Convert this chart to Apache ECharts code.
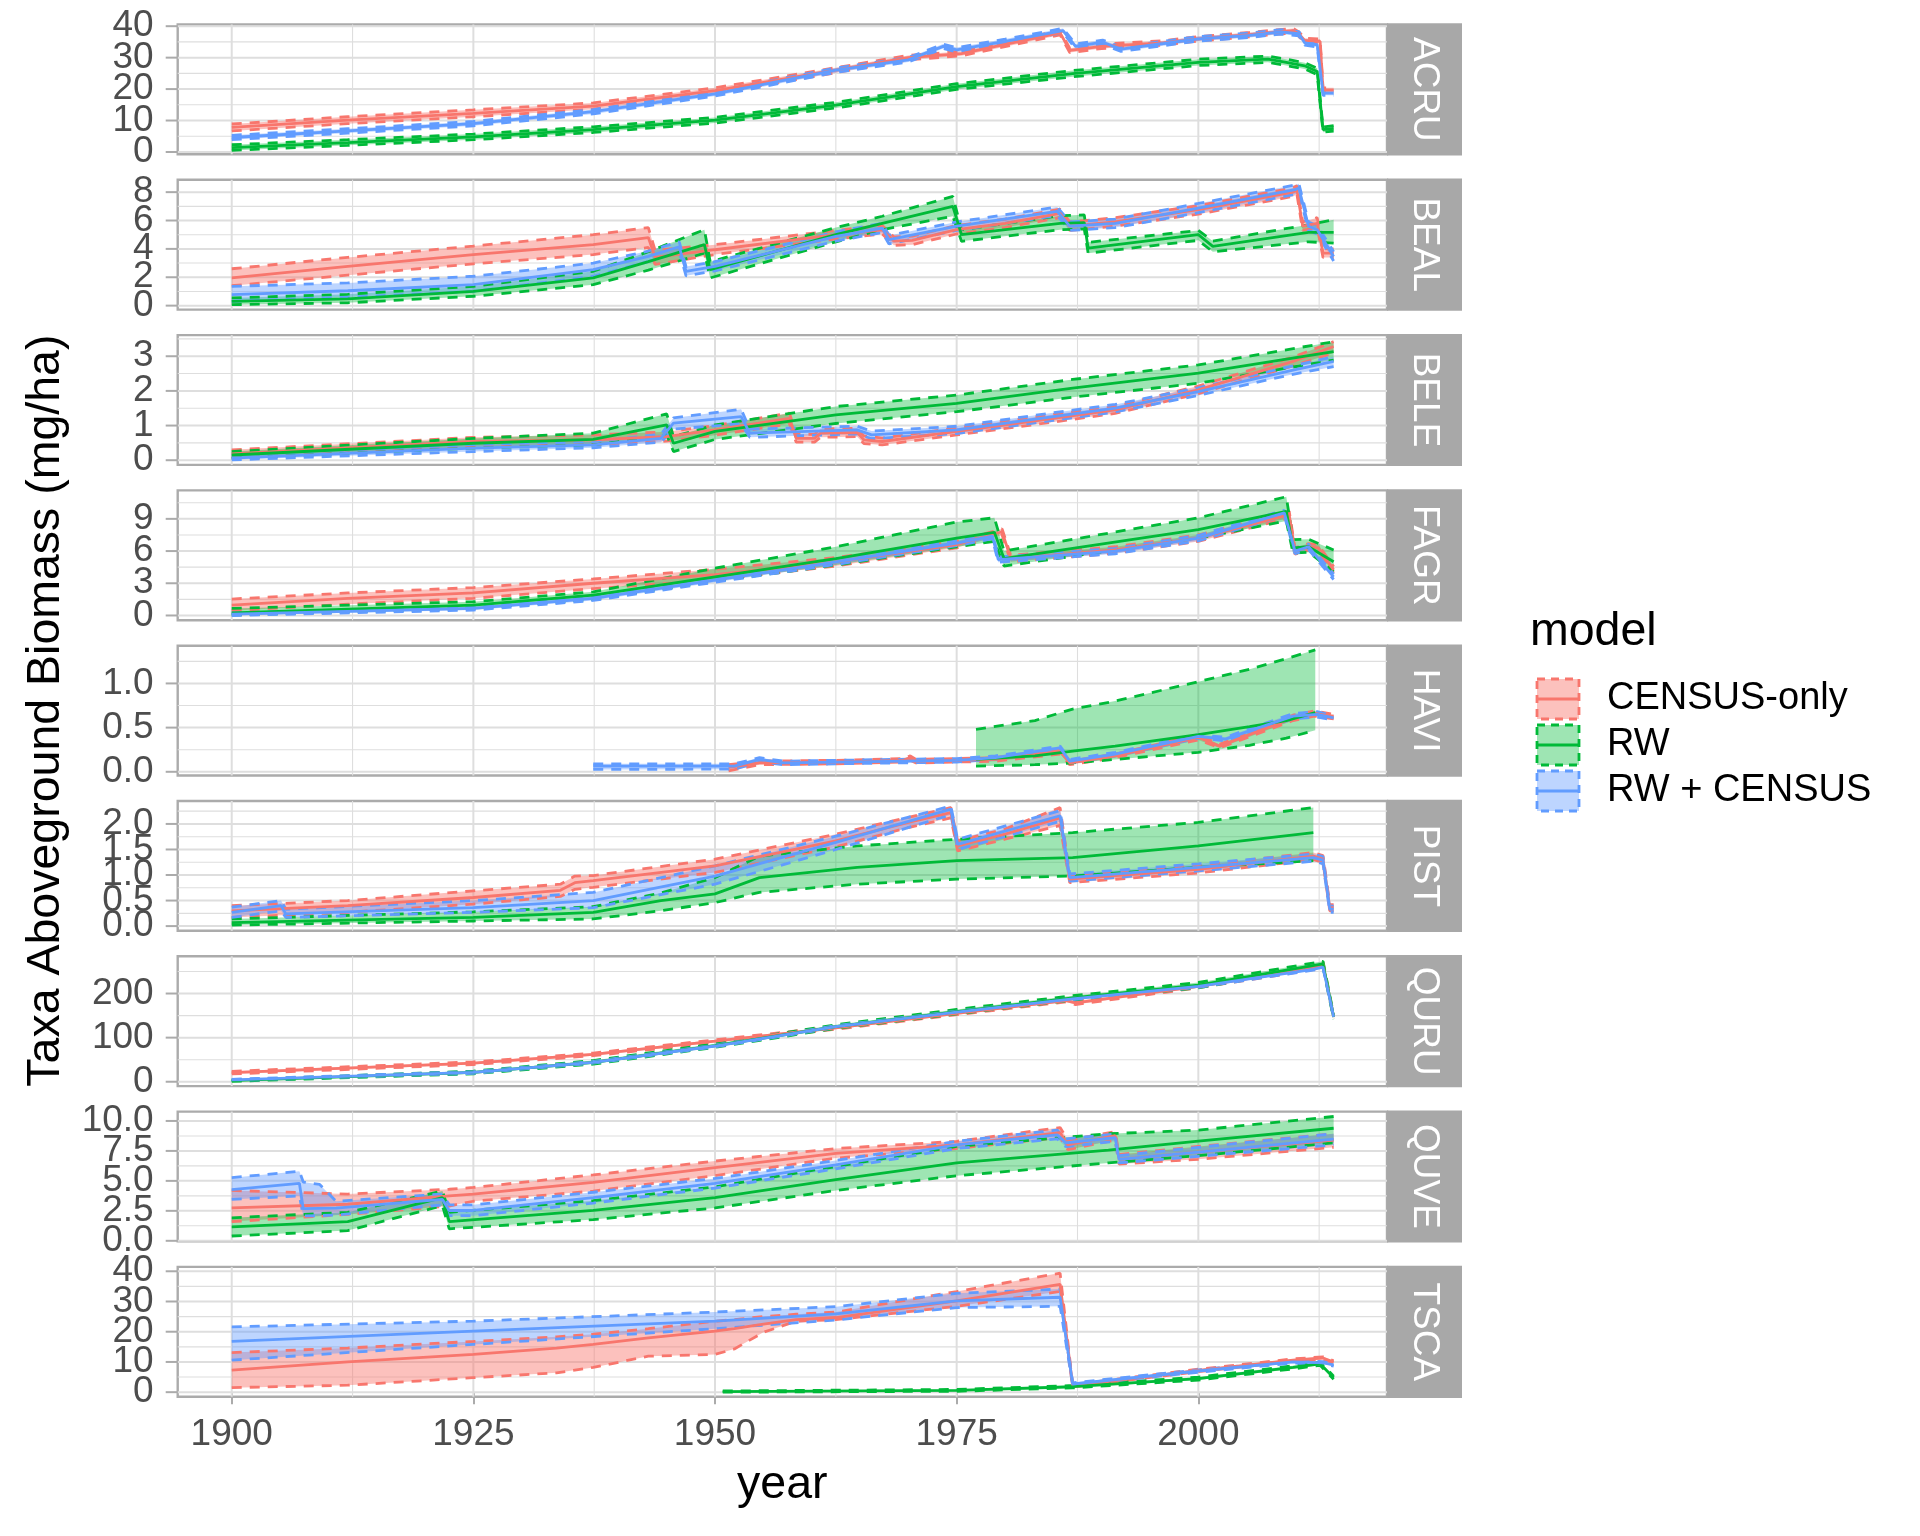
<!DOCTYPE html>
<html>
<head>
<meta charset="utf-8">
<script src="https://cdn.jsdelivr.net/npm/echarts@6/dist/echarts.min.js"></script>
<style>
  html, body { margin: 0; padding: 0; background: #fff; }
  #chart { width: 1920px; height: 1536px; }
</style>
</head>
<body>
<div id="chart"></div>
<script>
// x axis (shared)
const YEAR_MIN = 1894.41
const YEAR_MAX = 2019.52
const YEAR_TICKS = [1900, 1925, 1950, 1975, 2000]
const YEAR_MINOR = [1912.5, 1937.5, 1962.5, 1987.5, 2012.5]

const TAXA = ['ACRU', 'BEAL', 'BELE', 'FAGR', 'HAVI', 'PIST', 'QURU', 'QUVE', 'TSCA']
const MODELS = ['CENSUS-only', 'RW', 'RW + CENSUS']
const COLORS = ['#F8766D', '#00BA38', '#619CFF']
const FILLS = ['rgba(248,118,109,0.45)', 'rgba(0,186,56,0.38)', 'rgba(97,156,255,0.42)']

// y axes, one per facet
const Y_MIN = [-0.74, -0.28, -0.135, -0.44, -0.042, -0.092, -9.9, -0.05, -1.5]
const Y_MAX = [40.54, 8.87, 3.61, 11.65, 1.427, 2.449, 284.4, 10.78, 41.45]
const Y_TICKS = [
  [0, 10, 20, 30, 40], [0, 2, 4, 6, 8], [0, 1, 2, 3], [0, 3, 6, 9], [0, 0.5, 1],
  [0, 0.5, 1, 1.5, 2], [0, 100, 200], [0, 2.5, 5, 7.5, 10], [0, 10, 20, 30, 40]
]
const Y_MINOR = [
  [5, 15, 25, 35], [1, 3, 5, 7], [0.5, 1.5, 2.5, 3.5], [1.5, 4.5, 7.5, 10.5], [0.25, 0.75, 1.25],
  [0.25, 0.75, 1.25, 1.75, 2.25], [50, 150, 250], [1.25, 3.75, 6.25, 8.75], [5, 15, 25, 35]
]
const Y_DECIMALS = [0, 0, 0, 0, 1, 1, 0, 1, 0]

// rows: [year, lower, mean, upper]
const ACRU_CENSUS = [
  [1900, 6.7, 7.8, 8.9], [1912, 9.0, 10.1, 11.2], [1925, 11.2, 12.3, 13.4], [1937.4, 13.6, 14.6, 15.6],
  [1950, 18.6, 19.5, 20.4], [1962.5, 25.2, 26.0, 26.8], [1970, 29.3, 30.0, 30.7], [1975.5, 30.6, 31.3, 32.0],
  [1980, 33.5, 34.2, 34.9], [1985.7, 37.2, 37.9, 38.6], [1986.7, 31.6, 32.3, 33.0], [1990, 32.9, 33.6, 34.3],
  [1996.4, 34.0, 34.7, 35.4], [2000, 35.3, 36.0, 36.7], [2005.3, 36.6, 37.3, 38.0], [2009.8, 37.9, 38.6, 39.3],
  [2010.4, 36.8, 37.5, 38.2], [2011, 34.8, 35.5, 36.2], [2012.6, 34.5, 35.2, 35.9], [2012.9, 19.0, 19.7, 20.4],
  [2014, 19.0, 19.7, 20.4]
]
const ACRU_RW = [
  [1900, 0.5, 1.4, 2.3], [1912, 2.1, 3.0, 3.9], [1925, 3.9, 4.8, 5.7], [1937.4, 6.2, 7.1, 8.0],
  [1950, 9.2, 10.1, 11.0], [1962.5, 14.0, 14.9, 15.8], [1975, 19.9, 20.8, 21.7], [1987, 23.9, 24.9, 25.9],
  [2000, 27.5, 28.5, 29.5], [2007.2, 28.5, 29.5, 30.5], [2009.1, 27.5, 28.5, 29.5], [2011, 26.4, 27.4, 28.4],
  [2012.3, 24.6, 25.6, 26.6], [2012.9, 6.3, 7.1, 7.9], [2014, 6.6, 7.5, 8.4]
]
const ACRU_RWC = [
  [1900, 3.9, 4.6, 5.3], [1912, 6.0, 6.7, 7.4], [1925, 8.3, 9.0, 9.7], [1937.4, 12.1, 12.8, 13.5],
  [1950, 17.8, 18.5, 19.2], [1962.5, 25.3, 26.0, 26.7], [1970, 28.6, 29.3, 30.0], [1973.6, 32.9, 33.6, 34.3],
  [1975, 31.8, 32.5, 33.2], [1980, 34.5, 35.2, 35.9], [1986, 37.9, 38.6, 39.3], [1987.3, 32.9, 33.6, 34.3],
  [1990.1, 34.2, 34.9, 35.6], [1992, 32.0, 32.7, 33.4], [1996.4, 33.8, 34.5, 35.2], [2000, 35.3, 36.0, 36.7],
  [2005.3, 36.4, 37.1, 37.8], [2008.5, 37.5, 38.2, 38.9], [2010.4, 36.9, 37.6, 38.3], [2011, 34.0, 34.7, 35.4],
  [2012.3, 33.4, 34.1, 34.8], [2012.9, 18.0, 18.7, 19.4], [2014, 18.0, 18.7, 19.4]
]

const BEAL_CENSUS = [
  [1900, 1.4, 1.95, 2.6], [1912, 2.15, 2.77, 3.4], [1925, 2.95, 3.6, 4.2], [1937.4, 3.6, 4.3, 5.0],
  [1943.1, 4.1, 4.8, 5.5], [1943.8, 2.9, 3.4, 3.9], [1950, 3.6, 3.94, 4.3], [1962.5, 4.7, 5.0, 5.3],
  [1967.3, 5.05, 5.35, 5.65], [1968.5, 4.25, 4.55, 4.85], [1970.4, 4.3, 4.6, 4.9], [1975, 5.05, 5.35, 5.65],
  [1980, 5.5, 5.8, 6.1], [1985.7, 6.2, 6.5, 6.8], [1986.7, 5.3, 5.6, 5.9], [1991.4, 5.6, 5.9, 6.2],
  [2000, 6.45, 6.76, 7.05], [2009.8, 7.7, 8.0, 8.3], [2010.2, 7.85, 8.15, 8.45], [2010.8, 5.3, 5.6, 5.9],
  [2012.3, 5.5, 5.8, 6.2], [2012.9, 3.4, 3.7, 4.0], [2014, 3.4, 3.7, 4.0]
]
const BEAL_RW = [
  [1900, 0.07, 0.3, 0.54], [1912, 0.2, 0.47, 0.8], [1925, 0.66, 1.0, 1.36], [1937.4, 1.48, 1.95, 2.42],
  [1943.1, 2.5, 3.1, 3.8], [1948.9, 3.7, 4.3, 5.35], [1949.5, 1.95, 2.54, 3.1], [1962.5, 4.5, 5.0, 5.5],
  [1967.3, 5.35, 5.8, 6.3], [1974.6, 6.3, 7.0, 7.7], [1975.5, 4.53, 5.0, 5.35], [1985.7, 5.35, 5.8, 6.34],
  [1988.2, 5.4, 5.85, 6.4], [1988.6, 3.7, 4.06, 4.46], [2000, 4.6, 5.0, 5.3], [2001.5, 3.8, 4.18, 4.55],
  [2011.4, 4.5, 5.16, 5.7], [2014, 4.4, 5.16, 6.05]
]
const BEAL_RWC = [
  [1900, 0.3, 0.77, 1.36], [1912, 0.6, 1.05, 1.6], [1925, 1.0, 1.48, 2.07], [1937.4, 2.07, 2.54, 3.0],
  [1943.1, 3.1, 3.47, 3.85], [1946.3, 3.8, 4.15, 4.5], [1947, 2.1, 2.42, 2.75], [1950, 2.45, 2.77, 3.1],
  [1962.5, 4.55, 4.88, 5.2], [1967.3, 5.15, 5.47, 5.8], [1968, 4.35, 4.65, 4.95], [1975, 5.3, 5.6, 5.9],
  [1985.4, 6.35, 6.64, 6.95], [1986.7, 5.3, 5.6, 5.9], [1991.4, 5.5, 5.8, 6.1], [2000, 6.55, 6.88, 7.2],
  [2010, 7.85, 8.17, 8.5], [2010.4, 7.95, 8.29, 8.6], [2011.4, 5.3, 5.6, 5.9], [2012.3, 5.05, 5.35, 5.65],
  [2014, 3.15, 3.47, 3.8]
]

const BELE_CENSUS = [
  [1900, 0.06, 0.18, 0.3], [1925, 0.39, 0.54, 0.66], [1937.4, 0.45, 0.59, 0.73], [1945, 0.55, 0.68, 0.82],
  [1950, 0.72, 0.875, 1.0], [1957.7, 1.05, 1.21, 1.36], [1958.4, 0.52, 0.63, 0.75], [1960.3, 0.52, 0.63, 0.75],
  [1960.9, 0.66, 0.78, 0.9], [1964.7, 0.68, 0.8, 0.92], [1965.4, 0.48, 0.59, 0.7], [1967.3, 0.44, 0.54, 0.64],
  [1975, 0.73, 0.83, 0.93], [1985, 1.1, 1.21, 1.32], [1991.4, 1.35, 1.45, 1.55], [2000, 1.92, 2.03, 2.14],
  [2009.8, 2.72, 2.85, 2.98], [2014, 3.09, 3.28, 3.42]
]
const BELE_RW = [
  [1900, 0.06, 0.15, 0.25], [1925, 0.35, 0.49, 0.63], [1937.4, 0.44, 0.6, 0.78], [1945, 0.73, 1.02, 1.34],
  [1945.7, 0.25, 0.49, 0.68], [1950, 0.6, 0.83, 1.02], [1962.5, 1.06, 1.31, 1.55], [1975, 1.4, 1.64, 1.88],
  [1987, 1.82, 2.08, 2.33], [2000, 2.22, 2.51, 2.75], [2014, 2.89, 3.13, 3.42]
]
const BELE_RWC = [
  [1900, 0.01, 0.06, 0.15], [1925, 0.25, 0.35, 0.45], [1937.4, 0.36, 0.44, 0.54], [1944.4, 0.52, 0.63, 0.75],
  [1945.7, 0.9, 1.07, 1.22], [1952.7, 1.05, 1.26, 1.47], [1953.6, 0.66, 0.78, 0.9], [1964.7, 0.76, 0.875, 0.98],
  [1966.2, 0.62, 0.73, 0.84], [1975, 0.77, 0.875, 0.98], [1985, 1.15, 1.26, 1.37], [1991.4, 1.39, 1.5, 1.61],
  [2000, 1.87, 1.98, 2.09], [2009.8, 2.48, 2.6, 2.72], [2014, 2.7, 2.85, 2.99]
]

const FAGR_CENSUS = [
  [1900, 0.44, 0.97, 1.53], [1912, 1.05, 1.6, 2.1], [1925, 1.6, 2.1, 2.6], [1937.4, 2.5, 3.0, 3.4],
  [1950, 3.3, 3.8, 4.3], [1962.5, 4.6, 5.0, 5.4], [1975, 6.3, 6.6, 6.9], [1979.7, 7.5, 7.8, 8.06],
  [1980.6, 5.0, 5.3, 5.6], [1991.4, 5.8, 6.1, 6.4], [2000, 6.9, 7.2, 7.5], [2009.4, 9.1, 9.4, 9.7],
  [2010, 5.7, 6.0, 6.3], [2011.4, 6.1, 6.4, 6.7], [2012.4, 6.0, 6.3, 6.6], [2014, 3.95, 4.25, 4.55]
]
const FAGR_RW = [
  [1900, 0.03, 0.25, 0.66], [1925, 0.66, 0.97, 1.28], [1937.4, 1.5, 1.9, 2.2], [1950, 3.2, 3.6, 4.4],
  [1962.5, 4.7, 5.3, 6.4], [1975, 6.4, 7.2, 8.7], [1978.9, 6.9, 7.75, 9.1], [1979.9, 4.6, 5.3, 6.0],
  [2000, 7.2, 8.0, 9.1], [2009.1, 8.8, 9.7, 11.06], [2009.8, 5.8, 6.3, 7.06], [2011.4, 5.9, 6.4, 7.1],
  [2014, 4.1, 5.0, 6.1]
]
const FAGR_RWC = [
  [1900, 0.0, 0.12, 0.25], [1925, 0.5, 0.66, 0.82], [1937.4, 1.4, 1.6, 1.8], [1950, 3.1, 3.3, 3.5],
  [1962.5, 4.75, 5.0, 5.25], [1975, 6.5, 6.75, 7.0], [1978.7, 7.15, 7.4, 7.65], [1979.3, 4.95, 5.2, 5.45],
  [1991.4, 5.75, 6.0, 6.25], [2000, 6.95, 7.2, 7.45], [2008.9, 9.3, 9.56, 9.8], [2010, 5.75, 6.0, 6.25],
  [2011.4, 6.15, 6.4, 6.65], [2014, 3.35, 3.6, 3.85]
]

const HAVI_CENSUS = [
  [1951.4, 0.01, 0.05, 0.08], [1954.6, 0.08, 0.1, 0.12], [1962.5, 0.09, 0.11, 0.13], [1969.5, 0.11, 0.13, 0.15],
  [1970.2, 0.13, 0.16, 0.18], [1970.8, 0.1, 0.12, 0.14], [1975, 0.11, 0.13, 0.15], [1979, 0.12, 0.14, 0.16],
  [1985.7, 0.2, 0.23, 0.26], [1986.7, 0.08, 0.1, 0.12], [1991.4, 0.16, 0.18, 0.2], [2000, 0.36, 0.39, 0.42],
  [2002.2, 0.27, 0.29, 0.31], [2009.8, 0.58, 0.61, 0.64], [2012, 0.63, 0.66, 0.69], [2014, 0.6, 0.625, 0.65]
]
const HAVI_RW = [
  [1977, 0.064, 0.14, 0.48], [1983.1, 0.08, 0.18, 0.58], [1987, 0.1, 0.235, 0.71], [1991.4, 0.14, 0.29, 0.8],
  [2000, 0.22, 0.42, 1.02], [2005.3, 0.3, 0.51, 1.16], [2009.1, 0.38, 0.58, 1.28], [2012.1, 0.47, 0.67, 1.38]
]
const HAVI_RWC = [
  [1937.4, 0.027, 0.064, 0.09], [1952, 0.03, 0.064, 0.09], [1954.6, 0.11, 0.14, 0.16], [1957.1, 0.08, 0.1, 0.12],
  [1962.5, 0.09, 0.11, 0.13], [1975, 0.11, 0.13, 0.15], [1979, 0.14, 0.16, 0.18], [1985.7, 0.24, 0.27, 0.29],
  [1986.7, 0.1, 0.12, 0.14], [1991.4, 0.18, 0.2, 0.22], [2000, 0.38, 0.4, 0.42], [2002.8, 0.35, 0.37, 0.39],
  [2009.8, 0.6, 0.63, 0.66], [2012.3, 0.62, 0.65, 0.68], [2014, 0.585, 0.61, 0.635]
]

const PIST_CENSUS = [
  [1900, 0.17, 0.3, 0.4], [1912, 0.27, 0.4, 0.5], [1925, 0.43, 0.56, 0.69], [1934, 0.58, 0.7, 0.82],
  [1935.5, 0.72, 0.85, 0.98], [1937.4, 0.76, 0.89, 0.99], [1950, 1.05, 1.18, 1.31], [1962.5, 1.55, 1.67, 1.8],
  [1970, 1.93, 2.03, 2.13], [1974.4, 2.12, 2.22, 2.32], [1975.1, 1.47, 1.57, 1.67], [1980, 1.7, 1.8, 1.9],
  [1985.7, 1.97, 2.12, 2.32], [1986.7, 0.85, 0.92, 0.99], [2000, 1.04, 1.11, 1.18], [2011.9, 1.3, 1.37, 1.44],
  [2012.9, 1.25, 1.31, 1.38], [2013.6, 0.3, 0.36, 0.42], [2014, 0.3, 0.36, 0.42]
]
const PIST_RW = [
  [1900, 0.02, 0.07, 0.14], [1925, 0.1, 0.17, 0.28], [1937.4, 0.14, 0.27, 0.38], [1944.4, 0.3, 0.5, 0.65],
  [1950, 0.46, 0.63, 0.95], [1954.6, 0.66, 0.95, 1.37], [1964.7, 0.82, 1.15, 1.57], [1975, 0.92, 1.28, 1.7],
  [1987, 0.98, 1.34, 1.83], [2000, 1.15, 1.57, 2.03], [2011.9, 1.28, 1.83, 2.32]
]
const PIST_RWC = [
  [1900, 0.17, 0.27, 0.37], [1905.1, 0.3, 0.4, 0.5], [1905.6, 0.17, 0.24, 0.33], [1925, 0.27, 0.36, 0.5],
  [1937.4, 0.36, 0.5, 0.66], [1950, 0.82, 0.98, 1.18], [1962.5, 1.5, 1.64, 1.76], [1974.4, 2.18, 2.29, 2.35],
  [1975.1, 1.5, 1.6, 1.7], [1985.7, 2.05, 2.16, 2.26], [1986.7, 0.88, 0.95, 1.02], [2000, 1.08, 1.15, 1.22],
  [2011.9, 1.27, 1.34, 1.41], [2012.9, 1.22, 1.29, 1.36], [2013.6, 0.27, 0.33, 0.39], [2014, 0.27, 0.33, 0.39]
]

const QURU_CENSUS = [
  [1900, 17.7, 20.7, 23.7], [1925, 39, 42, 45], [1937.4, 59, 62, 65], [1950, 89, 92, 95],
  [1962.5, 119, 122, 125], [1975, 152, 155, 158], [1986.3, 181, 184, 187], [1987.3, 175, 179, 183],
  [2000, 213, 216, 219], [2011.9, 254, 257, 261], [2012.9, 263, 267, 271], [2014, 144, 147, 150]
]
const QURU_RW = [
  [1900, 1, 2.5, 4], [1925, 18, 21, 24], [1937.4, 40, 44, 48], [1950, 78, 82, 86],
  [1962.5, 121, 125, 129], [1975, 154, 159, 164], [1987, 185, 190, 195], [2000, 213, 219, 225],
  [2012.9, 261, 267, 273], [2014, 142, 147, 152]
]
const QURU_RWC = [
  [1900, 2.5, 4, 5.5], [1925, 19, 21, 23], [1937.4, 42, 44, 46], [1950, 79, 81, 83],
  [1962.5, 123, 125, 127], [1975, 156, 158, 160], [1987, 186, 188, 190], [2000, 214, 216, 218],
  [2011.9, 253, 255, 257], [2012.9, 258, 260, 262], [2014, 145, 147, 149]
]

const QUVE_CENSUS = [
  [1900, 1.6, 2.74, 4.2], [1912, 2.2, 3.05, 3.9], [1922.5, 2.9, 3.75, 4.3], [1925, 3.3, 3.9, 4.45],
  [1937.4, 4.15, 4.88, 5.5], [1950, 5.43, 6.1, 6.65], [1962.5, 6.9, 7.3, 7.7], [1975, 7.7, 8.0, 8.3],
  [1985.7, 8.63, 9.02, 9.45], [1986.5, 7.6, 8.0, 8.4], [1991.4, 8.4, 8.78, 9.1], [1991.8, 6.4, 6.8, 7.2],
  [2000, 6.8, 7.4, 7.87], [2014, 7.8, 8.41, 8.93]
]
const QUVE_RW = [
  [1900, 0.4, 1.16, 1.92], [1912, 0.85, 1.6, 2.38], [1921.8, 2.93, 3.6, 4.15], [1922.5, 1.0, 1.6, 2.38],
  [1937.4, 1.77, 2.53, 3.35], [1950, 2.74, 3.6, 4.5], [1962.5, 4.2, 5.1, 6.2], [1975, 5.43, 6.5, 7.87],
  [1990.7, 6.5, 7.56, 8.93], [2000, 7.1, 8.32, 9.24], [2014, 8.17, 9.39, 10.37]
]
const QUVE_RWC = [
  [1900, 3.45, 4.27, 5.27], [1907, 3.75, 4.8, 5.8], [1907.4, 2.07, 2.68, 4.9], [1909.1, 2.1, 2.7, 4.7],
  [1910.8, 2.15, 2.72, 3.3], [1921.8, 3.0, 3.45, 3.9], [1922.5, 2.1, 2.53, 3.0], [1925, 2.1, 2.53, 3.0],
  [1937.4, 3.15, 3.6, 4.05], [1950, 4.4, 4.8, 5.2], [1962.5, 6.0, 6.34, 6.7], [1975, 7.7, 8.0, 8.3],
  [1985.4, 8.5, 8.84, 9.24], [1986.3, 7.85, 8.17, 8.5], [1991.4, 8.3, 8.6, 8.9], [1991.8, 6.5, 6.8, 7.1],
  [2000, 7.05, 7.4, 7.8], [2014, 8.0, 8.48, 8.93]
]

const TSCA_CENSUS = [
  [1900, 1.5, 7.3, 13.1], [1912, 2.3, 10.0, 14.6], [1925, 4.8, 12.5, 16.8], [1933.6, 6.4, 14.6, 18.3],
  [1937.4, 8.2, 15.8, 19.2], [1943.1, 11.9, 18.0, 21.0], [1950, 12.5, 20.2, 23.5], [1952, 14.3, 21.0, 24.0],
  [1955, 19.8, 22.5, 25.0], [1958.4, 23.5, 24.0, 25.8], [1962.5, 24.0, 24.7, 26.5], [1975, 28.4, 30.2, 33.3],
  [1985.7, 33.3, 35.7, 39.4], [1987, 1.7, 2.1, 2.5], [2000, 6.8, 7.2, 7.6], [2009.8, 10.2, 10.6, 11.0],
  [2012.9, 10.9, 11.3, 11.7], [2014, 9.6, 10.0, 10.4]
]
const TSCA_RW = [
  [1950.8, 0.0, 0.2, 0.4], [1975, 0.3, 0.6, 0.9], [1987, 1.4, 1.8, 2.2], [2000, 4.0, 4.5, 5.0],
  [2009.8, 7.7, 8.2, 8.7], [2012.6, 8.9, 9.4, 9.9], [2014, 4.3, 4.8, 5.3]
]
const TSCA_RWC = [
  [1900, 10.6, 16.8, 21.6], [1925, 15.8, 20.2, 23.5], [1950, 21.0, 23.5, 26.5], [1962.5, 23.9, 25.9, 28.3],
  [1975, 28.0, 30.2, 32.7], [1985.7, 28.4, 31.4, 34.1], [1987, 2.3, 2.7, 3.1], [2000, 6.6, 7.0, 7.4],
  [2009.8, 9.6, 10.0, 10.4], [2012.9, 9.3, 9.7, 10.1], [2014, 8.65, 9.05, 9.45]
]

const PANELS = [
  [ACRU_CENSUS, ACRU_RW, ACRU_RWC], [BEAL_CENSUS, BEAL_RW, BEAL_RWC], [BELE_CENSUS, BELE_RW, BELE_RWC],
  [FAGR_CENSUS, FAGR_RW, FAGR_RWC], [HAVI_CENSUS, HAVI_RW, HAVI_RWC], [PIST_CENSUS, PIST_RW, PIST_RWC],
  [QURU_CENSUS, QURU_RW, QURU_RWC], [QUVE_CENSUS, QUVE_RW, QUVE_RWC], [TSCA_CENSUS, TSCA_RW, TSCA_RWC]
]

// layout (px)
const FONT = "'Liberation Sans', Arial, Helvetica, sans-serif"
const LEFT = 177.7
const RIGHT = 1387
const TOP = 24.5
const PITCH = 155.3
const PANEL_H = 129.8
const STRIP_W = 75
const FRAME = '#ABABAB'
const GRIDLINE = '#DEDEDE'
const DASH = [10, 8]
const LINE_W = 2.8
const TICK_LEN = 12

const chart = echarts.init(document.getElementById('chart'), null, { renderer: 'canvas' })

const grids = TAXA.map((t, i) => ({
  left: LEFT,
  top: TOP + PITCH * i,
  width: RIGHT - LEFT,
  height: PANEL_H,
  show: true,
  borderColor: FRAME,
  borderWidth: 2.4,
  backgroundColor: 'transparent',
}))

const xAxes = TAXA.map((t, i) => {
  const last = i === TAXA.length - 1
  return {
    type: 'value',
    gridIndex: i,
    min: YEAR_MIN,
    max: YEAR_MAX,
    axisLine: { show: false },
    splitLine: { show: false },
    axisTick: {
      show: last,
      customValues: YEAR_TICKS,
      length: TICK_LEN,
      lineStyle: { color: FRAME, width: 2 },
    },
    axisLabel: {
      show: last,
      customValues: YEAR_TICKS,
      margin: 20,
      fontSize: 37,
      fontFamily: FONT,
      color: '#4D4D4D',
      formatter: (v) => String(Math.round(v)),
    },
  }
})

// y tick marks and labels are drawn by the y-tick series below, so that
// crowded facets keep every label like the original does
const yAxes = TAXA.map((t, i) => ({
  type: 'value',
  gridIndex: i,
  min: Y_MIN[i],
  max: Y_MAX[i],
  axisLine: { show: false },
  splitLine: { show: false },
  axisTick: { show: false },
  axisLabel: { show: false },
}))

// panel grid lines: [direction (0 vertical / 1 horizontal), value, major]
const gridLines = (i) => {
  const data = []
  YEAR_MINOR.forEach((v) => data.push([0, v, 0]))
  Y_MINOR[i].forEach((v) => data.push([1, v, 0]))
  YEAR_TICKS.forEach((v) => data.push([0, v, 1]))
  Y_TICKS[i].forEach((v) => data.push([1, v, 1]))
  return {
    type: 'custom',
    xAxisIndex: i,
    yAxisIndex: i,
    silent: true,
    z: 1,
    data,
    renderItem: (params, api) => {
      const cs = params.coordSys
      const v = api.value(1)
      const major = api.value(2) === 1
      let shape
      if (api.value(0) === 0) {
        const x = api.coord([v, Y_MIN[i]])[0]
        shape = { x1: x, y1: cs.y, x2: x, y2: cs.y + cs.height }
      } else {
        const y = api.coord([YEAR_MIN, v])[1]
        shape = { x1: cs.x, y1: y, x2: cs.x + cs.width, y2: y }
      }
      return {
        type: 'line',
        shape,
        style: { stroke: GRIDLINE, lineWidth: major ? 2 : 1.1 },
      }
    },
  }
}

const yTicks = (i) => ({
  type: 'custom',
  xAxisIndex: i,
  yAxisIndex: i,
  silent: true,
  z: 4,
  data: Y_TICKS[i].map((v) => [YEAR_MIN, v]),
  renderItem: (params, api) => {
    const [x, y] = api.coord([YEAR_MIN, api.value(1)])
    return {
      type: 'group',
      children: [
        {
          type: 'line',
          shape: { x1: x - TICK_LEN, y1: y, x2: x, y2: y },
          style: { stroke: FRAME, lineWidth: 2 },
        },
        {
          type: 'text',
          x: x - 24,
          y,
          style: {
            text: api.value(1).toFixed(Y_DECIMALS[i]),
            fill: '#4D4D4D',
            font: `37px ${FONT}`,
            align: 'right',
            verticalAlign: 'middle',
          },
        },
      ],
    }
  },
})

const ribbon = (i, rows, m) => ({
  type: 'custom',
  xAxisIndex: i,
  yAxisIndex: i,
  silent: true,
  z: 2,
  data: [[rows[0][0], rows[0][2]]],
  renderItem: (params, api) => {
    const upper = rows.map((r) => api.coord([r[0], r[3]]))
    const lower = rows.slice().reverse().map((r) => api.coord([r[0], r[1]]))
    return {
      type: 'polygon',
      shape: { points: upper.concat(lower) },
      style: { fill: FILLS[m] },
    }
  },
})

const line = (i, rows, m, col, dashed) => ({
  type: 'line',
  xAxisIndex: i,
  yAxisIndex: i,
  silent: true,
  z: dashed ? 2 : 3,
  symbol: 'none',
  showSymbol: false,
  data: rows.map((r) => [r[0], r[col]]),
  lineStyle: { color: COLORS[m], width: LINE_W, type: dashed ? DASH : 'solid', cap: 'butt' },
})

const series = []
PANELS.forEach((sets, i) => {
  series.push(gridLines(i))
  series.push(yTicks(i))
  sets.forEach((rows, m) => {
    series.push(ribbon(i, rows, m))
    series.push(line(i, rows, m, 1, true))
    series.push(line(i, rows, m, 3, true))
  })
  sets.forEach((rows, m) => series.push(line(i, rows, m, 2, false)))
})

// facet strips, titles, legend
const graphic = []
TAXA.forEach((t, i) => {
  const top = TOP + PITCH * i
  graphic.push({
    type: 'rect',
    shape: { x: RIGHT, y: top - 1.2, width: STRIP_W, height: PANEL_H + 2.4 },
    style: { fill: '#A8A8A8' },
    silent: true,
  })
  graphic.push({
    type: 'text',
    x: RIGHT + STRIP_W / 2,
    y: top + PANEL_H / 2,
    rotation: -Math.PI / 2,
    style: { text: t, fill: '#fff', font: `37px ${FONT}`, align: 'center', verticalAlign: 'middle' },
    silent: true,
  })
})

graphic.push({
  type: 'text',
  x: 46,
  y: TOP + (PITCH * (TAXA.length - 1) + PANEL_H) / 2,
  rotation: Math.PI / 2,
  style: {
    text: 'Taxa Aboveground Biomass (mg/ha)',
    fill: '#000',
    font: `46.5px ${FONT}`,
    align: 'center',
    verticalAlign: 'middle',
  },
  silent: true,
})
graphic.push({
  type: 'text',
  x: (LEFT + RIGHT) / 2,
  y: 1485,
  style: { text: 'year', fill: '#000', font: `46.5px ${FONT}`, align: 'center', verticalAlign: 'middle' },
  silent: true,
})

graphic.push({
  type: 'text',
  x: 1530,
  y: 632,
  style: { text: 'model', fill: '#000', font: `46.5px ${FONT}`, align: 'left', verticalAlign: 'middle' },
  silent: true,
})
MODELS.forEach((name, m) => {
  const y = 679 + 46 * m
  graphic.push({
    type: 'rect',
    shape: { x: 1537, y, width: 42, height: 40 },
    style: { fill: FILLS[m], stroke: COLORS[m], lineWidth: LINE_W, lineDash: [8, 6] },
    silent: true,
  })
  graphic.push({
    type: 'line',
    shape: { x1: 1537, y1: y + 20, x2: 1579, y2: y + 20 },
    style: { stroke: COLORS[m], lineWidth: LINE_W },
    silent: true,
  })
  graphic.push({
    type: 'text',
    x: 1607,
    y: y + 20,
    style: { text: name, fill: '#000', font: `38px ${FONT}`, align: 'left', verticalAlign: 'middle' },
    silent: true,
  })
})

chart.setOption({
  animation: false,
  backgroundColor: '#fff',
  grid: grids,
  xAxis: xAxes,
  yAxis: yAxes,
  series,
  graphic,
})
</script>
</body>
</html>
